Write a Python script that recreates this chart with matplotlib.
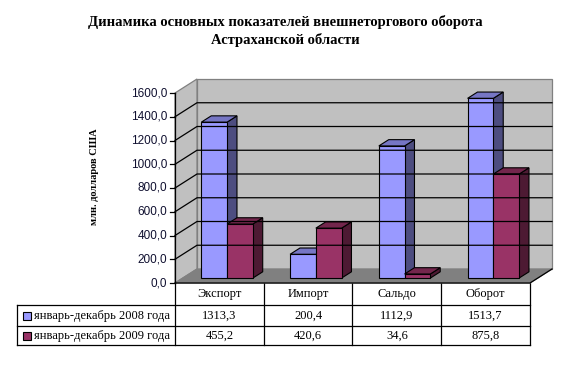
import numpy as np
import matplotlib.pyplot as plt
from matplotlib.patches import Polygon, Rectangle

# data
categories = ['Экспорт', 'Импорт', 'Сальдо', 'Оборот']
series_names = ['январь-декабрь 2008 года', 'январь-декабрь 2009 года']
values_2008 = [1313.3, 200.4, 1112.9, 1513.7]
values_2009 = [455.2, 420.6, 34.6, 875.8]
y_ticks = [0, 200, 400, 600, 800, 1000, 1200, 1400, 1600]

front_colors = ['#9999FF', '#993366']
side_colors = ['#4D4D80', '#4D1A33']
top_colors = ['#7676C4', '#73264C']

W, H = 569, 368
fig = plt.figure(figsize=(W / 100, H / 100), dpi=100)
fig.patch.set_facecolor('white')

# front plane of the plot, in pixels
x0, x1 = 175, 530
yb, yt = 283, 93
ax = fig.add_axes([x0 / W, 1 - yb / H, (x1 - x0) / W, (yb - yt) / H])
ax.set_xlim(0, len(categories))
ax.set_ylim(0, y_ticks[-1])
ax.axis('off')

# overlay in pixel coords for title, labels and table
tab = fig.add_axes([0, 0, 1, 1], zorder=-1)
tab.set_xlim(0, W)
tab.set_ylim(H, 0)
tab.axis('off')

ncat = len(categories)
ymax = y_ticks[-1]
# depth of the box: 22 px right, 14 px up
dx = 22 / (x1 - x0) * ncat
dy = 14 / (yb - yt) * ymax

# walls and floor
ax.add_patch(Polygon([(dx, dy), (ncat + dx, dy), (ncat + dx, ymax + dy), (dx, ymax + dy)],
                     closed=True, fc='#C0C0C0', ec='#808080', lw=0.9, clip_on=False))
ax.add_patch(Polygon([(0, 0), (dx, dy), (dx, ymax + dy), (0, ymax)],
                     closed=True, fc='#C0C0C0', ec='#808080', lw=0.9, clip_on=False))
ax.add_patch(Polygon([(0, 0), (ncat, 0), (ncat + dx, dy), (dx, dy)],
                     closed=True, fc='#808080', ec='#808080', lw=0.9, clip_on=False))

# gridlines on side and back wall
for t in y_ticks[1:-1]:
    ax.plot([0, dx, ncat + dx], [t, t + dy, t + dy], color='black', lw=0.9, clip_on=False)

# front edges of floor
ax.plot([0, ncat, ncat + dx], [0, 0, dy], color='black', lw=0.9, clip_on=False)

# value axis
ax.plot([0, 0], [0, ymax], color='black', lw=0.9, clip_on=False)
tick_len = 5 / (x1 - x0) * ncat
for t in y_ticks:
    ax.plot([-tick_len, 0], [t, t], color='black', lw=0.9, clip_on=False)
    ax.text(-tick_len - 0.03, t, f'{t:.1f}'.replace('.', ','), ha='right', va='center',
            fontsize=8.5, family='Liberation Sans', color='#101030')

# 3d bars
d0, d1 = 0.35, 0.8
bw = 0.29
for j in range(ncat):
    for i, vals in enumerate([values_2008, values_2009]):
        v = vals[j]
        xl = j + 0.5 - bw + i * bw
        xr = xl + bw
        ox0, oy0 = d0 * dx, d0 * dy
        ox1, oy1 = d1 * dx, d1 * dy
        front = [(xl + ox0, oy0), (xr + ox0, oy0), (xr + ox0, v + oy0), (xl + ox0, v + oy0)]
        side = [(xr + ox0, oy0), (xr + ox1, oy1), (xr + ox1, v + oy1), (xr + ox0, v + oy0)]
        top = [(xl + ox0, v + oy0), (xr + ox0, v + oy0), (xr + ox1, v + oy1), (xl + ox1, v + oy1)]
        for pts, c in [(side, side_colors[i]), (top, top_colors[i]), (front, front_colors[i])]:
            ax.add_patch(Polygon(pts, closed=True, fc=c, ec='black', lw=0.8, clip_on=False))

# title and axis label
tab.text(285, 31, 'Динамика основных показателей внешнеторгового оборота\nАстраханской области',
         ha='center', va='center', fontsize=10.5, fontweight='bold', family='Liberation Serif',
         linespacing=1.3)
tab.text(95, 177, 'млн. долларов США', rotation=90, ha='center', va='center',
         fontsize=7.5, fontweight='bold', family='Liberation Serif')

# data table
col_edges = np.linspace(x0, x1, ncat + 1)
row_edges = [yb, 305, 326, 345]
left = 17
for cx in col_edges:
    tab.plot([cx, cx], [row_edges[0], row_edges[-1]], color='black', lw=0.9)
tab.plot([left, left], [row_edges[1], row_edges[-1]], color='black', lw=0.9)
for ry in row_edges[1:]:
    tab.plot([left, x1], [ry, ry], color='black', lw=0.9)

for j, cat in enumerate(categories):
    cx = (col_edges[j] + col_edges[j + 1]) / 2
    tab.text(cx, (row_edges[0] + row_edges[1]) / 2, cat, ha='center', va='center',
             fontsize=9, family='Liberation Serif')
    for i, vals in enumerate([values_2008, values_2009]):
        tab.text(cx, (row_edges[i + 1] + row_edges[i + 2]) / 2, f'{vals[j]:.1f}'.replace('.', ','),
                 ha='center', va='center', fontsize=9, family='Liberation Serif')

for i, name in enumerate(series_names):
    cy = (row_edges[i + 1] + row_edges[i + 2]) / 2
    tab.add_patch(Rectangle((23, cy - 4), 8, 8, fc=front_colors[i], ec='black', lw=0.8))
    tab.text(34, cy, name, ha='left', va='center', fontsize=9, family='Liberation Serif')

fig.savefig('out.png', dpi=100)
